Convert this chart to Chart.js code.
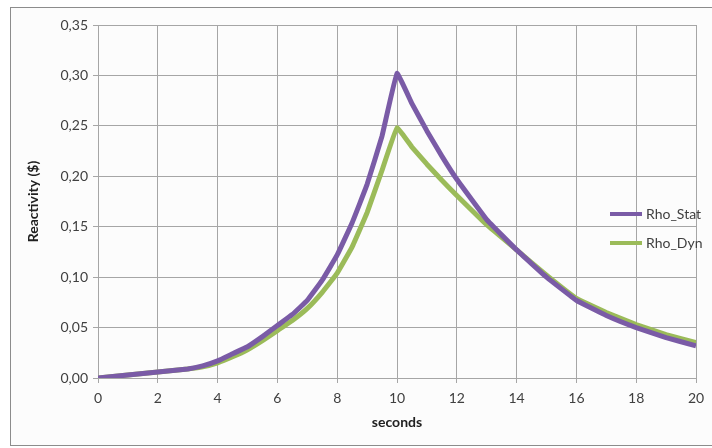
<!DOCTYPE html>
<html>
<head>
<meta charset="utf-8">
<script src="https://cdn.jsdelivr.net/npm/chart.js@4/dist/chart.umd.min.js"></script>
<style>
  html, body { margin: 0; padding: 0; background: #ffffff; }
  #wrap { width: 712px; height: 448px; position: relative; overflow: hidden; }
  #frame { position: absolute; left: 10px; top: 7px; width: 720px; height: 437px;
           border: 1.5px solid #8c8c8c; background: #fcfcfc; }
  #reactivityChart { position: absolute; left: 0; top: 0; }
</style>
</head>
<body>
<div id="wrap">
  <div id="frame"></div>
  <canvas id="reactivityChart" width="712" height="448"></canvas>
</div>
<script>
// values
const seconds  = [0, 1, 2, 3, 3.5, 4, 4.5, 5, 5.5, 6, 6.5, 7, 7.5, 8, 8.5, 9, 9.5, 10, 10.5, 11, 11.5, 12, 13, 14, 15, 16, 17, 18, 19, 20];
const rhoStat  = [0, 0.003, 0.006, 0.009, 0.012, 0.017, 0.024, 0.031, 0.041, 0.052, 0.063, 0.077, 0.097, 0.122, 0.154, 0.192, 0.240, 0.302, 0.272, 0.245, 0.220, 0.197, 0.157, 0.127, 0.100, 0.077, 0.062, 0.050, 0.040, 0.032];
const rhoDyn   = [0, 0.003, 0.006, 0.009, 0.011, 0.015, 0.021, 0.028, 0.037, 0.047, 0.057, 0.069, 0.085, 0.104, 0.130, 0.164, 0.206, 0.248, 0.229, 0.212, 0.196, 0.181, 0.152, 0.127, 0.102, 0.079, 0.065, 0.053, 0.043, 0.035];
const seriesNames = ['Rho_Stat', 'Rho_Dyn'];
const seriesColors = ['#7a5ba6', '#9bbb59'];

const font = "Lato, 'Open Sans', sans-serif";
const gridColor = '#a6a6a6';

function toPoints(xs, ys) {
    return xs.map((x, i) => ({ x: x, y: ys[i] }));
}

// legend sits over the plot area on the right, like the Excel original
const overlayLegend = {
    id: 'overlayLegend',
    afterDraw(chart) {
        const ctx = chart.ctx;
        ctx.save();
        ctx.font = '14px ' + font;
        ctx.textBaseline = 'middle';
        ctx.fillStyle = '#404040';
        const rows = [214, 243];
        chart.data.datasets.forEach((ds, i) => {
            ctx.strokeStyle = ds.borderColor;
            ctx.lineWidth = 4;
            ctx.beginPath();
            ctx.moveTo(610, rows[i]);
            ctx.lineTo(642, rows[i]);
            ctx.stroke();
            ctx.fillText(ds.label, 646, rows[i]);
        });
        ctx.restore();
    }
};

const ctx = document.getElementById('reactivityChart').getContext('2d');
const chart = new Chart(ctx, {
    type: 'line',
    data: {
        datasets: [
            {
                label: seriesNames[0],
                data: toPoints(seconds, rhoStat),
                borderColor: seriesColors[0],
                borderWidth: 5,
                pointRadius: 0,
                tension: 0.08,
                borderJoinStyle: 'round'
            },
            {
                label: seriesNames[1],
                data: toPoints(seconds, rhoDyn),
                borderColor: seriesColors[1],
                borderWidth: 5,
                pointRadius: 0,
                tension: 0.08,
                borderJoinStyle: 'round'
            }
        ]
    },
    options: {
        responsive: false,
        animation: false,
        layout: { padding: { left: 0, top: 25, right: 16, bottom: 0 } },
        plugins: {
            legend: { display: false },
            tooltip: { enabled: false }
        },
        scales: {
            x: {
                type: 'linear',
                min: 0,
                max: 20,
                ticks: { stepSize: 2, color: '#404040', font: { family: font, size: 14 }, padding: 7 },
                grid: { color: gridColor, tickLength: 5, drawTicks: true },
                border: { color: gridColor },
                title: { display: true, text: 'seconds', color: '#202020', font: { family: font, size: 14, weight: 'bold' }, padding: { top: 4, bottom: 17 } },
                afterFit(scale) { scale.height = 70; }
            },
            y: {
                min: 0,
                max: 0.35,
                ticks: {
                    stepSize: 0.05,
                    color: '#404040',
                    font: { family: font, size: 14 },
                    padding: 5,
                    callback: v => v.toFixed(2).replace('.', ',')
                },
                grid: { color: gridColor, tickLength: 5, drawTicks: true },
                border: { color: gridColor },
                title: { display: true, text: 'Reactivity ($)', color: '#202020', font: { family: font, size: 14, weight: 'bold' }, padding: { top: 25, bottom: 0 } },
                afterFit(scale) { scale.width = 98; }
            }
        }
    },
    plugins: [overlayLegend]
});
</script>
</body>
</html>
